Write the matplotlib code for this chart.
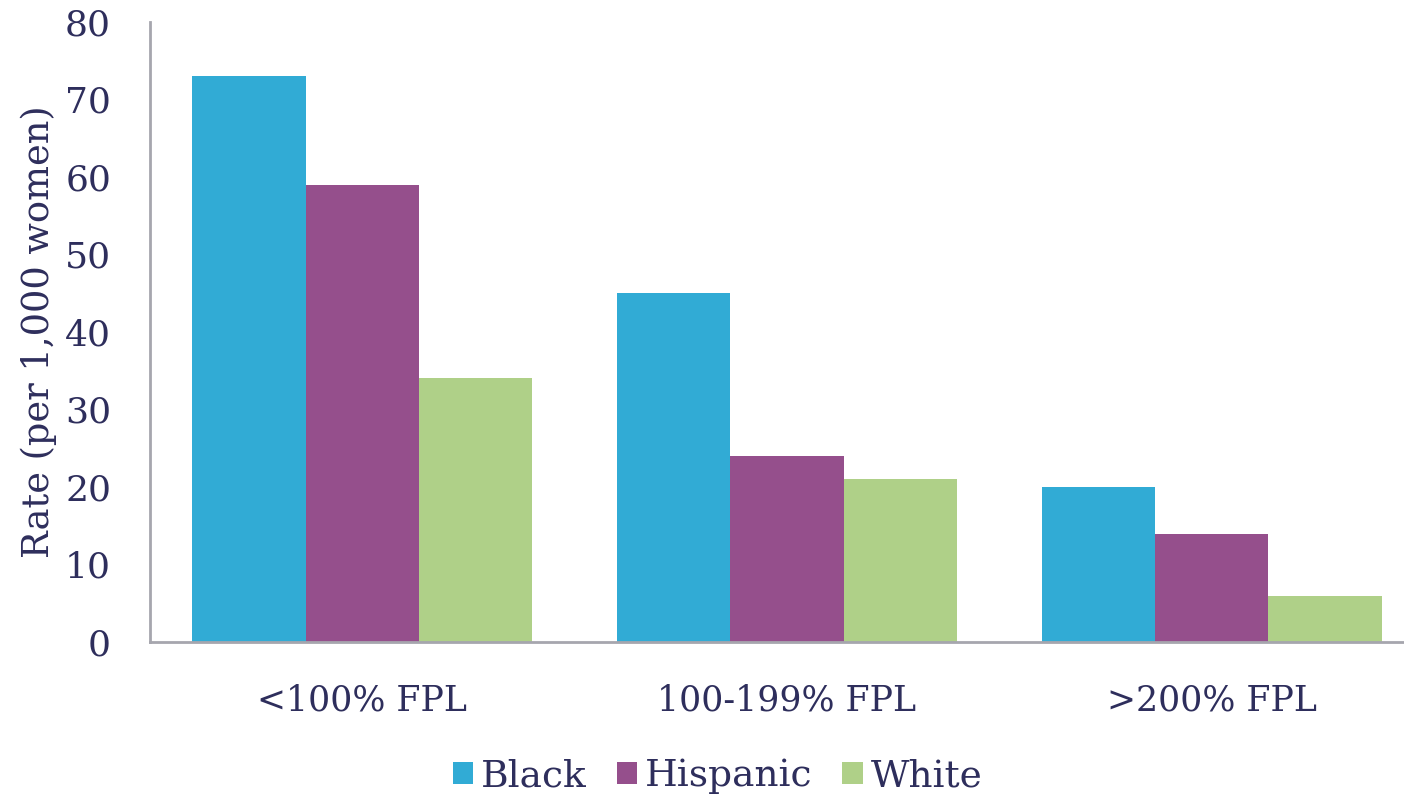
import numpy as np
from matplotlib import pyplot as plt
from matplotlib.patches import Patch

categories = ['<100% FPL', '100-199% FPL', '>200% FPL']
groups = ['Black', 'Hispanic', 'White']
black = [73, 45, 20]
hispanic = [59, 24, 14]
white = [34, 21, 6]
yticks = [0, 10, 20, 30, 40, 50, 60, 70, 80]

colors = ['#31abd5', '#954f8c', '#afd088']
text_color = '#2e2e5c'
axis_color = '#a6a6ae'

plt.rcParams['font.family'] = ['DejaVu Serif']

fig = plt.figure(figsize=(14.04, 7.97), dpi=100)
ax = fig.add_axes([150/1404, 155/797, 1 - 150/1404, 620/797])

x = np.arange(len(categories))
width = 0.8 / 3
for i, (vals, c) in enumerate(zip([black, hispanic, white], colors)):
	ax.bar(x + (i - 1) * width, vals, width, color=c, label=groups[i])

ax.set_xlim(-0.5, 2.5 - 20/425)
ax.set_ylim(0, 80)
ax.set_yticks(yticks)
ax.set_xticks(x)
ax.set_xticklabels(categories)

for s in ['top', 'right']:
	ax.spines[s].set_visible(False)
for s in ['left', 'bottom']:
	ax.spines[s].set_color(axis_color)
	ax.spines[s].set_linewidth(2)

ax.tick_params(axis='y', length=0, labelsize=26, labelcolor=text_color, pad=28)
ax.tick_params(axis='x', length=0, labelsize=25, labelcolor=text_color, pad=30)
ax.set_ylabel('Rate (per 1,000 women)', fontsize=26.5, color=text_color, labelpad=6)

handles = [Patch(facecolor=c, label=g) for g, c in zip(groups, colors)]
fig.legend(handles=handles, loc='center', bbox_to_anchor=(0.511, 0.026), ncol=3,
	frameon=False, fontsize=27, labelcolor=text_color, handlelength=0.55,
	handleheight=0.55, handletextpad=0.2, columnspacing=0.8, borderaxespad=0)

fig.savefig('out.png', dpi=100)
